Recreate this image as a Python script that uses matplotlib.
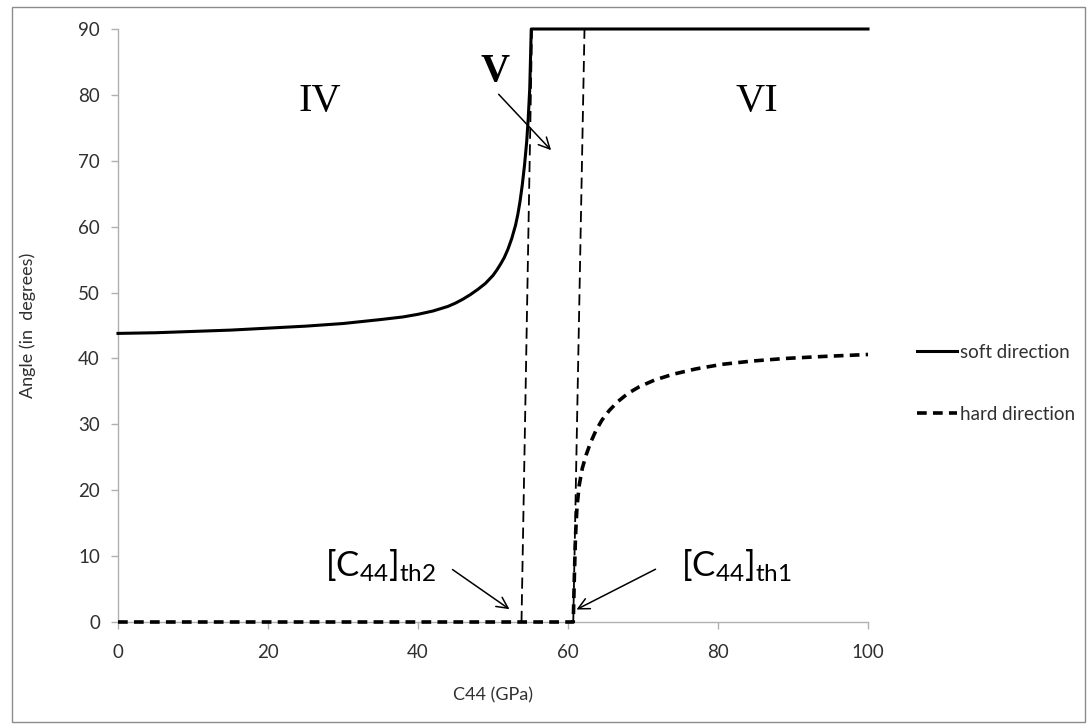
import matplotlib
matplotlib.use("Agg")
import matplotlib.pyplot as plt
from matplotlib.patches import Rectangle

plt.rcParams['font.family'] = ['Lato', 'DejaVu Sans']
plt.rcParams['mathtext.fontset'] = 'custom'
plt.rcParams['mathtext.rm'] = 'Lato'
plt.rcParams['mathtext.it'] = 'Lato'
plt.rcParams['lines.scale_dashes'] = False

# ---- data ----
soft_x = [0, 5, 10, 15, 20, 25, 30, 35, 38, 40, 42, 44, 45, 46, 47, 48, 49, 50, 50.5, 51, 51.5, 52,
          52.5, 53, 53.3, 53.6, 53.9, 54.2, 54.5, 54.7, 54.9, 55.1, 60, 70, 80, 90, 100]
soft_y = [43.8, 43.9, 44.1, 44.3, 44.6, 44.9, 45.3, 45.9, 46.3, 46.7, 47.2, 47.9, 48.4, 49.0, 49.7, 50.5,
          51.4, 52.6, 53.4, 54.3, 55.3, 56.6, 58.2, 60.2, 61.8, 63.8, 66.3, 69.3, 73.0, 76.5, 81.0, 90,
          90, 90, 90, 90, 90]

hard_x = [0, 20, 40, 60, 60.7, 60.85, 61.0, 61.2, 61.5, 61.9, 62.4, 63.0, 63.7, 64.5, 65.5, 66.7,
          68.0, 69.5, 71.5, 74.0, 77.0, 80.5, 84.5, 89.0, 94.0, 100]
hard_y = [0, 0, 0, 0, 0, 7, 13, 17.5, 20.8, 23.3, 25.3, 27.2, 29.0, 30.6, 32.1, 33.5,
          34.7, 35.7, 36.7, 37.6, 38.4, 39.1, 39.6, 40.0, 40.3, 40.6]

# threshold guide lines (bottom x, top x)
th2_x = [53.8, 55.2]
th1_x = [60.7, 62.2]
guide_y = [0, 90]

x_ticks = [0, 20, 40, 60, 80, 100]
y_ticks = [0, 10, 20, 30, 40, 50, 60, 70, 80, 90]

region_labels = ["IV", "V", "VI"]
region_pos = [(26.9, 79.0), (50.3, 83.5), (85.2, 79.0)]
region_weight = ["normal", "bold", "normal"]

# ---- figure ----
fig = plt.figure(figsize=(10.9, 7.28), dpi=100)
fig.patches.append(Rectangle((12/1090, 6/728), (1085-12)/1090, (722-7)/728,
                             transform=fig.transFigure, fill=False,
                             edgecolor='#8c8c8c', lw=1.0))
ax = fig.add_axes([118/1090, 1-622/728, 750/1090, (622-29)/728])

ax.plot(soft_x, soft_y, color='black', lw=2.2, solid_joinstyle='round', label='soft direction',
        clip_on=False, zorder=4)
ax.plot(hard_x, hard_y, color='black', lw=2.6, dashes=(7, 4.5), label='hard direction',
        clip_on=False, zorder=4)
ax.plot(th2_x, guide_y, color='black', lw=1.3, dashes=(8, 4), clip_on=False)
ax.plot(th1_x, guide_y, color='black', lw=1.3, dashes=(8, 4), clip_on=False)

ax.set_xlim(0, 100)
ax.set_ylim(0, 90)
ax.set_xticks(x_ticks)
ax.set_yticks(y_ticks)
for s in ['top', 'right']:
    ax.spines[s].set_visible(False)
for s in ['left', 'bottom']:
    ax.spines[s].set_color('#b0b0b0')
    ax.spines[s].set_linewidth(1.0)
ax.tick_params(axis='both', colors='#b0b0b0', labelcolor='#303030',
               labelsize=13.5, length=5, width=1.0, direction='out')
ax.tick_params(axis='x', pad=11)
ax.tick_params(axis='y', pad=8)

ax.set_xlabel('C44 (GPa)', fontsize=13, color='#303030', labelpad=19)
ax.set_ylabel('Angle (in  degrees)', fontsize=13, color='#303030', labelpad=30)

for lab, (px, py), w in zip(region_labels, region_pos, region_weight):
    ax.text(px, py, lab, fontsize=29, family='Liberation Serif', fontweight=w,
            ha='center', va='center', color='black')

arrow_kw = dict(arrowstyle='->', lw=1.1, color='black', mutation_scale=20)
ax.annotate('', xy=(58.0, 71.3), xytext=(50.5, 80.4), arrowprops=arrow_kw)
ax.annotate('', xy=(52.5, 1.7), xytext=(44.3, 8.2), arrowprops=arrow_kw)
ax.annotate('', xy=(60.8, 1.7), xytext=(72.0, 8.2), arrowprops=arrow_kw)

ax.text(35.0, 8.5, r'$\mathrm{[C_{44}]_{th2}}$', fontsize=25, ha='center', va='center')
ax.text(82.5, 8.5, r'$\mathrm{[C_{44}]_{th1}}$', fontsize=25, ha='center', va='center')

fig.legend(loc='center left', bbox_to_anchor=(908/1090, 1-383/728), frameon=False,
           fontsize=13.5, handlelength=2.1, handletextpad=0.2, labelspacing=2.4,
           labelcolor='#303030', borderpad=0)

fig.savefig('out.png', dpi=100, facecolor='white')
